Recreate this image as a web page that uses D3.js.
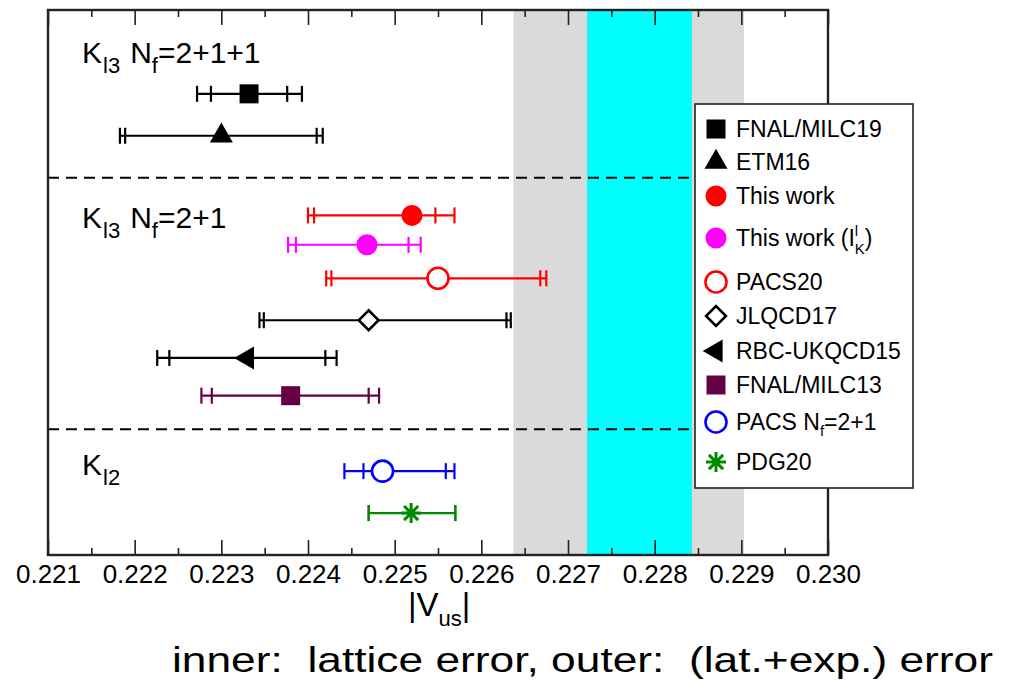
<!DOCTYPE html>
<html lang="en">
<head>
    <meta charset="UTF-8">
    <title>|Vus| comparison</title>
    <script src="https://d3js.org/d3.v7.min.js"></script>
    <style>
        body { margin: 0; background: #fff; }
        text { font-family: "Liberation Sans", Arial, sans-serif; fill: #000; }
    </style>
</head>
<body>
    <script>
        // results, top to bottom
        const names = ["FNAL/MILC19", "ETM16", "This work", "This work (Il_K)", "PACS20",
                       "JLQCD17", "RBC-UKQCD15", "FNAL/MILC13", "PACS Nf=2+1", "PDG20"];
        const rowPos  = [11, 10, 8.1, 7.4, 6.6, 5.6, 4.7, 3.8, 2, 1];
        const central = [0.22332, 0.22300, 0.22520, 0.22468, 0.22550, 0.22470, 0.22330, 0.22380, 0.22486, 0.22519];
        const innerLo = [0.22288, 0.22189, 0.22407, 0.22386, 0.22427, 0.22349, 0.22240, 0.22289, 0.22464, 0.22470];
        const innerHi = [0.22376, 0.22410, 0.22547, 0.22516, 0.22668, 0.22629, 0.22420, 0.22470, 0.22559, 0.22570];
        const outerLo = [0.22272, 0.22183, 0.22400, 0.22377, 0.22421, 0.22344, 0.22226, 0.22277, 0.22442, 0.22470];
        const outerHi = [0.22393, 0.22417, 0.22569, 0.22530, 0.22675, 0.22634, 0.22433, 0.22482, 0.22569, 0.22570];
        const colors  = ["#000", "#000", "#ff0000", "#ff00ff", "#ff0000", "#000", "#000", "#650045", "#0000ff", "#008a00"];
        const shapes  = ["square", "triangle", "circle", "circle", "circle", "diamond", "triangleLeft", "square", "circle", "star"];
        const filled  = [true, true, true, true, false, false, true, true, false, false];

        // unitarity bands
        const bandOuter = [0.22637, 0.22903];
        const bandInner = [0.22722, 0.22843];

        const dividers = [3, 9];
        const majorTicks = d3.range(0, 10).map(i => 0.221 + i * 0.001);
        const minorTicks = d3.range(0, 9).map(i => 0.2215 + i * 0.001);

        const W = 1013, H = 682;
        const mL = 48, mR = 828, mT = 10, mB = 555;

        const svg = d3.select("body").append("svg")
            .attr("width", W)
            .attr("height", H);

        const x = d3.scaleLinear().domain([0.221, 0.230]).range([mL, mR]);
        const y = d3.scaleLinear().domain([0, 13]).range([mB, mT]);

        // bands
        svg.append("rect")
            .attr("x", x(bandOuter[0])).attr("y", mT)
            .attr("width", x(bandOuter[1]) - x(bandOuter[0])).attr("height", mB - mT)
            .attr("fill", "#dadada");
        svg.append("rect")
            .attr("x", x(bandInner[0])).attr("y", mT)
            .attr("width", x(bandInner[1]) - x(bandInner[0])).attr("height", mB - mT)
            .attr("fill", "#00ffff");

        // dashed separators
        svg.selectAll("line.sep").data(dividers).enter().append("line")
            .attr("class", "sep")
            .attr("x1", mL).attr("x2", mR)
            .attr("y1", d => y(d)).attr("y2", d => y(d))
            .attr("stroke", "#000").attr("stroke-width", 2)
            .attr("stroke-dasharray", "11,7");

        // group labels
        function groupLabel(px, py, sub1, rest, sub2, tail) {
            const t = svg.append("text").attr("x", px).attr("y", py).attr("font-size", 30);
            t.append("tspan").text("K");
            t.append("tspan").attr("font-size", 22).attr("dx", 1).attr("dy", 10).text(sub1);
            if (rest) {
                t.append("tspan").attr("dy", -10).attr("dx", 10).text(rest);
                t.append("tspan").attr("font-size", 22).attr("dy", 10).text(sub2);
                t.append("tspan").attr("dy", -10).text(tail);
            }
        }
        groupLabel(82, 63, "l3", "N", "f", "=2+1+1");
        groupLabel(82, 228, "l3", "N", "f", "=2+1");
        groupLabel(82, 475, "l2");

        // markers
        const capH = 8;
        function markerPath(shape) {
            if (shape === "square") return d3.symbol(d3.symbolSquare, 19 * 19)();
            if (shape === "triangle" || shape === "triangleLeft")
                return d3.symbol(d3.symbolTriangle, 23 * 23 * Math.sqrt(3) / 4)();
            if (shape === "circle") return d3.symbol(d3.symbolCircle, Math.PI * 10.5 * 10.5)();
            if (shape === "diamond") return d3.symbol(d3.symbolSquare, 14 * 14)();
            // asterisk
            const r = 10, p = d3.path();
            [0, 45, 90, 135].forEach(a => {
                const c = Math.cos(a * Math.PI / 180) * r, s = Math.sin(a * Math.PI / 180) * r;
                p.moveTo(-c, -s); p.lineTo(c, s);
            });
            return p.toString();
        }
        function drawMarker(g, i, px, py) {
            const shape = shapes[i];
            let rot = 0;
            if (shape === "triangleLeft") rot = -90;
            if (shape === "diamond") rot = 45;
            g.append("path")
                .attr("d", markerPath(shape))
                .attr("transform", `translate(${px},${py}) rotate(${rot})`)
                .attr("fill", filled[i] ? colors[i] : (shape === "star" ? "none" : "#fff"))
                .attr("stroke", colors[i])
                .attr("stroke-width", filled[i] ? 0 : (shape === "star" ? 3 : 2.6));
        }

        // error bars
        const rows = names.map((n, i) => i);
        const gBars = svg.append("g");
        rows.forEach(i => {
            const py = y(rowPos[i]);
            const g = gBars.append("g");
            g.append("line")
                .attr("x1", x(outerLo[i])).attr("x2", x(outerHi[i]))
                .attr("y1", py).attr("y2", py)
                .attr("stroke", colors[i]).attr("stroke-width", 2.2);
            [innerLo[i], innerHi[i], outerLo[i], outerHi[i]].forEach(v => {
                g.append("line")
                    .attr("x1", x(v)).attr("x2", x(v))
                    .attr("y1", py - capH).attr("y2", py + capH)
                    .attr("stroke", colors[i]).attr("stroke-width", 2.2);
            });
            drawMarker(g, i, x(central[i]), py);
        });

        // axes
        const fmt = d3.format(".3f");
        const bottomAxis = svg.append("g")
            .attr("transform", `translate(0,${mB})`)
            .call(d3.axisBottom(x).tickValues(majorTicks).tickFormat(fmt)
                .tickSizeInner(-15).tickSizeOuter(0).tickPadding(9.5));
        bottomAxis.selectAll("text").attr("font-size", 26).attr("font-family", "Liberation Sans, Arial, sans-serif");
        svg.append("g")
            .attr("transform", `translate(0,${mB})`)
            .call(d3.axisBottom(x).tickValues(minorTicks).tickFormat("").tickSizeInner(-7).tickSizeOuter(0));
        svg.append("g")
            .attr("transform", `translate(0,${mT})`)
            .call(d3.axisTop(x).tickValues(majorTicks).tickFormat("").tickSizeInner(-15).tickSizeOuter(0));
        svg.append("g")
            .attr("transform", `translate(0,${mT})`)
            .call(d3.axisTop(x).tickValues(minorTicks).tickFormat("").tickSizeInner(-7).tickSizeOuter(0));
        svg.selectAll(".tick line").attr("stroke", "#222").attr("stroke-width", 1.6);
        svg.selectAll(".domain").remove();

        svg.append("rect")
            .attr("x", mL).attr("y", mT)
            .attr("width", mR - mL).attr("height", mB - mT)
            .attr("fill", "none").attr("stroke", "#222").attr("stroke-width", 2.4);

        // axis title
        const xt = svg.append("text").attr("x", 408).attr("y", 616).attr("font-size", 33);
        xt.append("tspan").text("|V");
        xt.append("tspan").attr("font-size", 22).attr("dy", 10).text("us");
        xt.append("tspan").attr("dy", -10).text("|");

        // legend
        const lg = svg.append("g");
        lg.append("rect")
            .attr("x", 695).attr("y", 104).attr("width", 218).attr("height", 384)
            .attr("fill", "#fff").attr("stroke", "#222").attr("stroke-width", 1.6);
        const legendY = [129, 162, 196, 238, 282, 316, 351, 385, 422, 462];
        rows.forEach(i => {
            const ly = legendY[i];
            drawMarker(lg, i, 716, ly);
            const t = lg.append("text").attr("x", 736).attr("y", ly + 8).attr("font-size", 23);
            if (i === 3) {
                t.append("tspan").text("This work (I");
                t.append("tspan").attr("font-size", 15).attr("dy", -10).text("l");
                t.append("tspan").attr("font-size", 15).attr("dx", -3.5).attr("dy", 18).text("K");
                t.append("tspan").attr("dy", -8).text(")");
            } else if (i === 8) {
                t.append("tspan").text("PACS N");
                t.append("tspan").attr("font-size", 15).attr("dy", 6).text("f");
                t.append("tspan").attr("dy", -6).text("=2+1");
            } else {
                t.text(names[i]);
            }
        });

        // footnote
        svg.append("text")
            .attr("x", 172).attr("y", 672)
            .attr("font-size", 35)
            .attr("font-weight", 300)
            .attr("font-family", "DejaVu Sans Condensed, DejaVu Sans, sans-serif")
            .attr("textLength", 821).attr("lengthAdjust", "spacingAndGlyphs")
            .style("white-space", "pre")
            .text("inner:  lattice error, outer:  (lat.+exp.) error");
    </script>
</body>
</html>
